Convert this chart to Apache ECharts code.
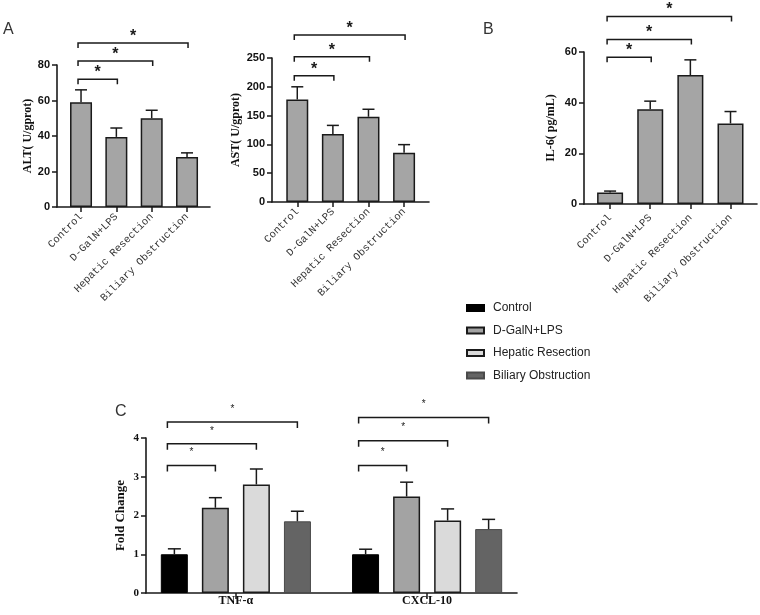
<!DOCTYPE html>
<html>
<head>
<meta charset="utf-8">
<script src="https://cdn.jsdelivr.net/npm/echarts@6/dist/echarts.min.js"></script>
<style>html,body{margin:0;padding:0;background:#fff;}#c{width:760px;height:615px;}</style>
</head>
<body>
<div id="c"></div>
<script>
// ---------- data ----------
const groups = ['Control', 'D-GalN+LPS', 'Hepatic Resection', 'Biliary Obstruction'];

const altMean = [59, 39.5, 50, 28.2];
const altErr = [7, 5, 4.5, 2.3];
const altTicks = [0, 20, 40, 60, 80];

const astMean = [178, 118, 148, 85.6];
const astErr = [22, 15, 13, 14];
const astTicks = [0, 50, 100, 150, 200, 250];

const il6Mean = [4.5, 37.4, 50.9, 31.8];
const il6Err = [0.6, 3.2, 6, 4.7];
const il6Ticks = [0, 20, 40, 60];

const genes = ['TNF-α', 'CXCL-10'];
const ctrlC = [1.0, 1.0];
const ctrlCErr = [0.14, 0.13];
const dgalC = [2.2, 2.49];
const dgalCErr = [0.26, 0.37];
const hepC = [2.8, 1.87];
const hepCErr = [0.4, 0.3];
const bilC = [1.85, 1.65];
const bilCErr = [0.26, 0.25];
const foldTicks = [0, 1, 2, 3, 4];

// significance brackets: [fromGroup, toGroup, height]
const altSig = [[0, 1, 72], [0, 2, 82.3], [0, 3, 92.4]];
const astSig = [[0, 1, 219], [0, 2, 252], [0, 3, 290]];
const il6Sig = [[0, 1, 57.9], [0, 2, 64.9], [0, 3, 74]];
// [gene, fromGroup, toGroup, height]
const cSig = [[0, 0, 1, 3.29], [0, 0, 2, 3.85], [0, 0, 3, 4.41],
              [1, 0, 1, 3.29], [1, 0, 2, 3.93], [1, 0, 3, 4.53]];

// ---------- helpers ----------
const SANS = '"Liberation Sans", Arial, sans-serif';
const SERIF = '"Liberation Serif", "Times New Roman", serif';
const MONO = '"Liberation Mono", "DejaVu Sans Mono", monospace';
const INK = '#1a1a1a';

function xAxisGroups(gi, min, max, margin) {
  return {
    type: 'value', gridIndex: gi, min: min, max: max, position: 'bottom',
    splitLine: { show: false },
    axisLine: { show: true, onZero: false, lineStyle: { color: INK, width: 1.6 } },
    axisTick: { show: true, inside: false, customValues: [0, 1, 2, 3], length: 5, lineStyle: { color: INK, width: 1.5 } },
    axisLabel: {
      customValues: [0, 1, 2, 3], rotate: 45, margin: margin,
      formatter: v => groups[Math.round(v)],
      fontFamily: MONO, fontSize: 10.5, color: '#333'
    }
  };
}
function yAxisVal(gi, ticks, name, gap, nameFont, labelFont) {
  const step = ticks[1] - ticks[0];
  return {
    type: 'value', gridIndex: gi, min: ticks[0], max: ticks[ticks.length - 1], interval: step, position: 'left',
    name: name, nameLocation: 'middle', nameGap: gap,
    nameTextStyle: { fontFamily: SERIF, fontWeight: 'bold', fontSize: nameFont, color: '#111' },
    splitLine: { show: false },
    axisLine: { show: true, onZero: false, lineStyle: { color: INK, width: 1.6 } },
    axisTick: { show: true, inside: false, length: 5, lineStyle: { color: INK, width: 1.5 } },
    axisLabel: { inside: false, margin: 7, fontFamily: labelFont, fontWeight: 'bold', fontSize: 11, color: '#111' }
  };
}
function errRender(offset, cap) {
  return function (params, api) {
    const x = api.value(0), m = api.value(1), e = api.value(2);
    const base = api.coord([x, m]);
    const top = api.coord([x, m + e]);
    const cx = base[0] + offset;
    const st = { stroke: INK, lineWidth: 1.5 };
    return {
      type: 'group', children: [
        { type: 'line', shape: { x1: cx, y1: base[1], x2: cx, y2: top[1] }, style: st },
        { type: 'line', shape: { x1: cx - cap, y1: top[1], x2: cx + cap, y2: top[1] }, style: st }
      ]
    };
  };
}
function bracketShape(x1, x2, y, drop, starDy, starFont) {
  return {
    type: 'group', children: [
      { type: 'polyline', shape: { points: [[x1, y + drop], [x1, y], [x2, y], [x2, y + drop]] },
        style: { stroke: INK, lineWidth: 1.5, fill: null } },
      { type: 'text', style: { text: '*', x: (x1 + x2) / 2, y: y + starDy, align: 'center', verticalAlign: 'middle',
        font: starFont, fill: '#1a1a1a' } }
    ]
  };
}
function sigRenderA(params, api) {
  const p1 = api.coord([api.value(0), api.value(2)]);
  const p2 = api.coord([api.value(1), api.value(2)]);
  return bracketShape(p1[0] - 3, p2[0] + 1, p1[1], 5, -6.5, 'bold 16px ' + SANS);
}
function sigRenderC(params, api) {
  const p = api.coord([api.value(0), api.value(3)]);
  const x1 = p[0] + (api.value(1) - 1.5) * 41 - 7;
  const x2 = p[0] + (api.value(2) - 1.5) * 41;
  return bracketShape(x1, x2, p[1], 6, -13, '10px ' + SANS);
}
const pts = (arr) => arr.map((v, i) => [i, v]);
const errPts = (m, e) => m.map((v, i) => [i, v, e[i]]);

function panelSeries(idx, mean, err, sig, bw) {
  return [
    { type: 'bar', name: 'p' + idx, xAxisIndex: idx, yAxisIndex: idx, data: pts(mean), barWidth: bw,
      itemStyle: { color: '#a5a5a5', borderColor: INK, borderWidth: 1.5 }, z: 2 },
    { type: 'custom', xAxisIndex: idx, yAxisIndex: idx, data: errPts(mean, err), renderItem: errRender(0, 6), z: 3 },
    { type: 'custom', xAxisIndex: idx, yAxisIndex: idx, data: sig, renderItem: sigRenderA, z: 3, clip: false }
  ];
}

const cStyles = [
  { color: '#000000', borderColor: '#000000', borderWidth: 1 },
  { color: '#a3a3a3', borderColor: INK, borderWidth: 1.5 },
  { color: '#dadada', borderColor: INK, borderWidth: 1.5 },
  { color: '#646464', borderColor: '#4a4a4a', borderWidth: 1 }
];
const cMeans = [ctrlC, dgalC, hepC, bilC];
const cErrs = [ctrlCErr, dgalCErr, hepCErr, bilCErr];

const series = []
  .concat(panelSeries(0, altMean, altErr, altSig, 22))
  .concat(panelSeries(1, astMean, astErr, astSig, 22))
  .concat(panelSeries(2, il6Mean, il6Err, il6Sig, 26));
groups.forEach((g, s) => {
  series.push({ type: 'bar', name: g, xAxisIndex: 3, yAxisIndex: 3, data: pts(cMeans[s]),
    barWidth: 27, barGap: '52%', itemStyle: cStyles[s], z: 2 });
});
groups.forEach((g, s) => {
  series.push({ type: 'custom', xAxisIndex: 3, yAxisIndex: 3, data: errPts(cMeans[s], cErrs[s]),
    renderItem: errRender((s - 1.5) * 41, 6.5), z: 3 });
});
series.push({ type: 'custom', xAxisIndex: 3, yAxisIndex: 3, data: cSig, renderItem: sigRenderC, z: 3, clip: false });

const xC = {
  type: 'value', gridIndex: 3, min: -0.47, max: 1.47, position: 'bottom',
  splitLine: { show: false },
  axisLine: { show: true, onZero: false, lineStyle: { color: INK, width: 1.6 } },
  axisTick: { show: true, customValues: [0, 1], length: 6, lineStyle: { color: INK, width: 1.5 } },
  axisLabel: { customValues: [0, 1], margin: 2, formatter: v => genes[Math.round(v)],
    fontFamily: SERIF, fontWeight: 'bold', fontSize: 12, color: '#111' }
};

const option = {
  animation: false,
  backgroundColor: '#fff',
  grid: [
    { left: 57, top: 65, width: 153, height: 142 },
    { left: 272, top: 58, width: 157, height: 144 },
    { left: 584, top: 52, width: 173, height: 152 },
    { left: 146, top: 438, width: 371, height: 155 }
  ],
  xAxis: [xAxisGroups(0, -0.68, 3.65, 8), xAxisGroups(1, -0.71, 3.7, 8), xAxisGroups(2, -0.65, 3.66, 12), xC],
  yAxis: [
    yAxisVal(0, altTicks, 'ALT( U/gprot)', 22, 12, SANS),
    yAxisVal(1, astTicks, 'AST( U/gprot)', 30, 12, SANS),
    yAxisVal(2, il6Ticks, 'IL-6( pg/mL)', 27, 12, SANS),
    yAxisVal(3, foldTicks, 'Fold Change', 19, 13, SERIF)
  ],
  legend: {
    data: groups, orient: 'vertical', left: 466, top: 301, padding: 0,
    itemWidth: 17, itemHeight: 6, itemGap: 8.5, icon: 'rect',
    textStyle: { fontFamily: SANS, fontSize: 12, color: '#222', lineHeight: 14, padding: [0, 0, 0, 4] }
  },
  graphic: [
    { type: 'text', left: 3, top: 22, style: { text: 'A', font: '16px ' + SANS, fill: '#333' } },
    { type: 'text', left: 483, top: 22, style: { text: 'B', font: '16px ' + SANS, fill: '#333' } },
    { type: 'text', left: 115, top: 404, style: { text: 'C', font: '16px ' + SANS, fill: '#333' } }
  ],
  series: series
};

const chart = echarts.init(document.getElementById('c'), null, { renderer: 'canvas' });
chart.setOption(option);
</script>
</body>
</html>
